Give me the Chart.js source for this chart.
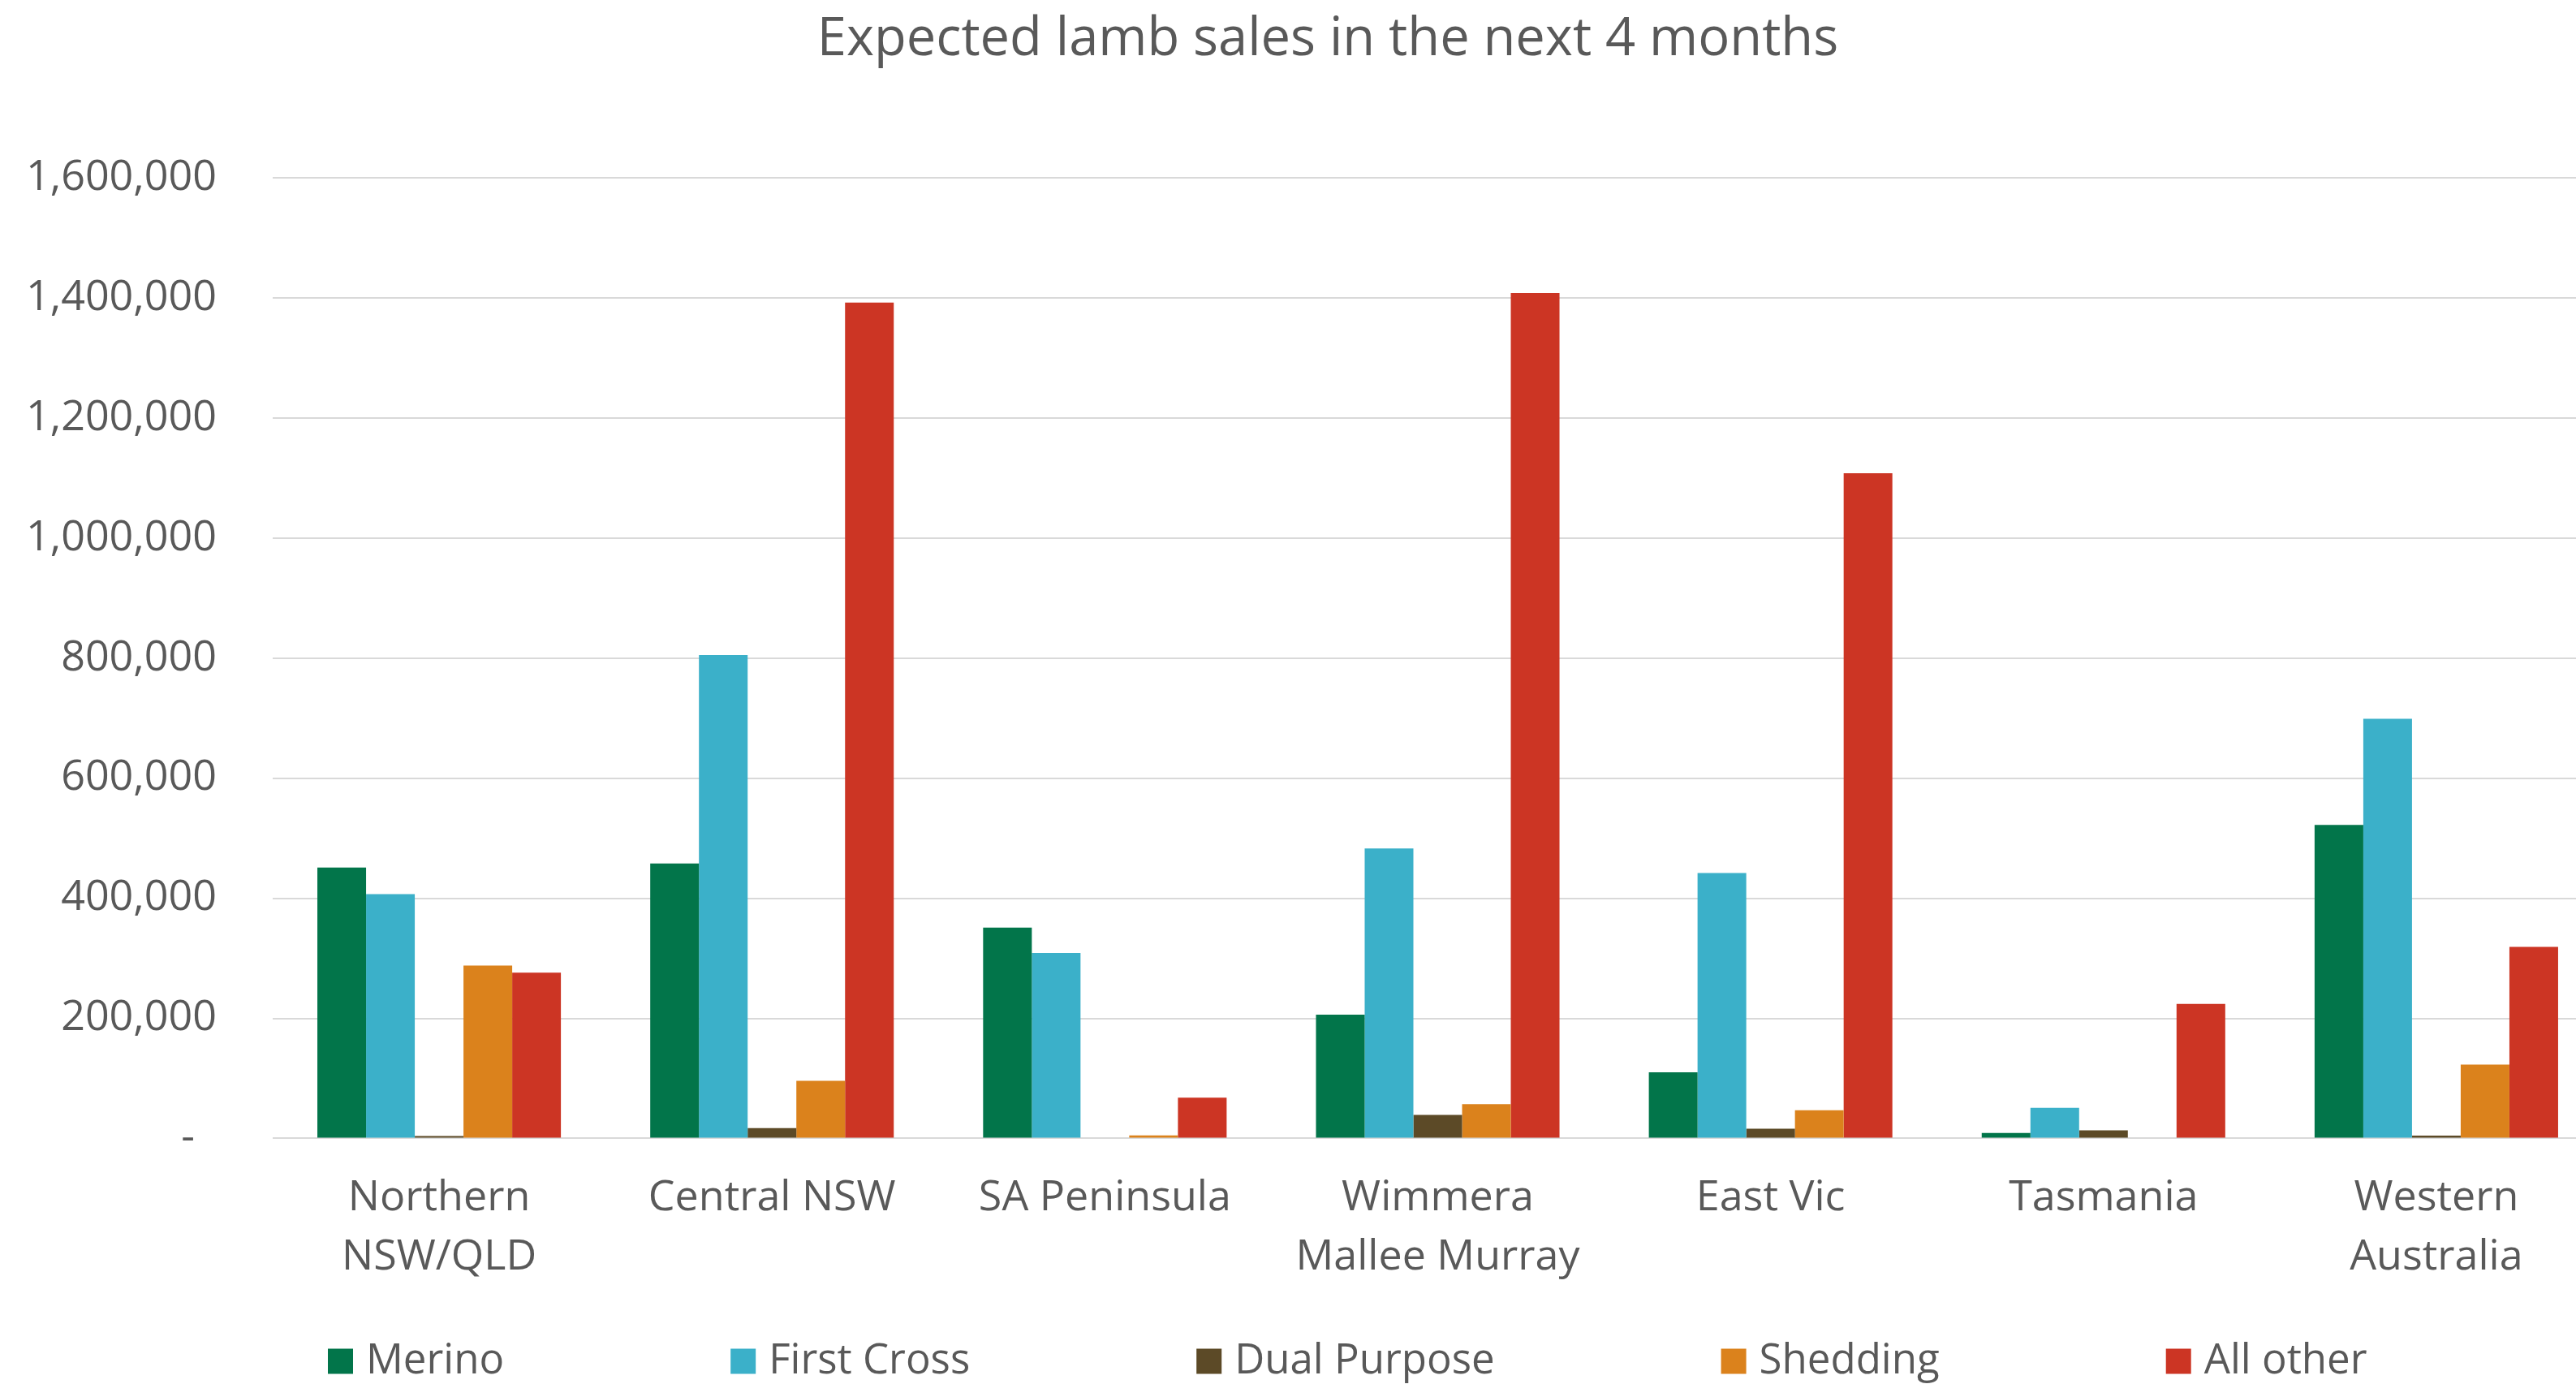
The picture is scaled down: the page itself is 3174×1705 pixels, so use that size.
<!DOCTYPE html>
<html>
<head>
<meta charset="utf-8">
<title>Expected lamb sales in the next 4 months</title>
<script src="https://cdn.jsdelivr.net/npm/chart.js@4.4.1/dist/chart.umd.min.js"></script>
<style>
  html, body { margin: 0; padding: 0; background: #fff; overflow: hidden; }
  #wrap { width: 3272px; height: 1705px; }
</style>
</head>
<body>
<div id="wrap"><canvas id="chart" width="3272" height="1705"></canvas></div>
<script>
// regions (two-line labels are arrays)
const regions = [
    ['Northern', 'NSW/QLD'],
    'Central NSW',
    'SA Peninsula',
    ['Wimmera', 'Mallee Murray'],
    'East Vic',
    'Tasmania',
    ['Western', 'Australia'],
];

// lambs expected to be sold, per breed type
const merino      = [451000, 458000, 351000, 206000, 110000,   9000, 522000];
const firstCross  = [407000, 805000, 309000, 483000, 442000,  51000, 699000];
const dualPurpose = [  4000,  17000,      0,  39000,  16000,  13500,   4500];
const shedding    = [288000,  96000,   5000,  57000,  47000,      0, 123000];
const allOther    = [276000, 1392000, 68000, 1408000, 1108000, 224000, 319000];

const yTicks = [0, 200000, 400000, 600000, 800000, 1000000, 1200000, 1400000, 1600000];

const textColor = '#595959';
const fontFamily = '"Open Sans", "Noto Sans", sans-serif';

// Excel centres the title a bit right of the canvas middle
const titleShift = {
    id: 'titleShift',
    afterLayout(chart, args, opts) {
        const t = chart.titleBlock;
        if (!t) return;
        const dx = opts.centerX - (t.left + t.right) / 2;
        t.left += dx;
        t.right += dx;
    },
};

// legend drawn by hand: Excel spreads the items out much wider than chart.js would
const bottomLegend = {
    id: 'bottomLegend',
    afterDraw(chart, args, opts) {
        const ctx = chart.ctx;
        ctx.save();
        ctx.font = opts.fontSize + 'px ' + fontFamily;
        ctx.textBaseline = 'middle';
        ctx.textAlign = 'left';
        let x = opts.startX;
        chart.data.datasets.forEach((ds) => {
            ctx.fillStyle = ds.backgroundColor;
            ctx.fillRect(x, opts.y - opts.box / 2, opts.box, opts.box);
            x += opts.box + opts.textGap;
            ctx.fillStyle = textColor;
            ctx.fillText(ds.label, x, opts.y);
            x += ctx.measureText(ds.label).width + opts.itemGap;
        });
        ctx.restore();
    },
};

const ctx = document.getElementById('chart').getContext('2d');

new Chart(ctx, {
    type: 'bar',
    data: {
        labels: regions,
        datasets: [
            { label: 'Merino', data: merino, backgroundColor: '#02754a' },
            { label: 'First Cross', data: firstCross, backgroundColor: '#3bb0c9' },
            { label: 'Dual Purpose', data: dualPurpose, backgroundColor: '#5c4a27' },
            { label: 'Shedding', data: shedding, backgroundColor: '#db821c' },
            { label: 'All other', data: allOther, backgroundColor: '#cc3524' },
        ],
    },
    options: {
        responsive: false,
        animation: false,
        layout: {
            padding: { top: 0, left: 10, right: 65, bottom: 90 },
        },
        datasets: {
            bar: {
                categoryPercentage: 0.7316,
                barPercentage: 1,
            },
        },
        plugins: {
            legend: { display: false },
            tooltip: { enabled: false },
            title: {
                display: true,
                text: 'Expected lamb sales in the next 4 months',
                color: textColor,
                font: { family: fontFamily, size: 65, weight: 'normal', lineHeight: 1.2 },
                padding: { top: 10, bottom: 131 },
            },
            titleShift: { centerX: 1636 },
            bottomLegend: {
                startX: 404,
                y: 1677,
                box: 31,
                textGap: 16,
                itemGap: 279,
                fontSize: 51,
            },
        },
        scales: {
            x: {
                grid: { display: false },
                border: { display: false },
                ticks: {
                    color: textColor,
                    padding: 30,
                    maxRotation: 0,
                    autoSkip: false,
                    font: { family: fontFamily, size: 52, lineHeight: 1.39 },
                },
            },
            y: {
                min: 0,
                max: 1600000,
                afterFit: (scale) => { scale.width = 326; },
                afterBuildTicks: (scale) => {
                    scale.ticks = yTicks.map((v) => ({ value: v }));
                },
                grid: {
                    color: '#d9d9d9',
                    lineWidth: 2,
                    drawTicks: false,
                },
                border: { display: false },
                ticks: {
                    color: textColor,
                    padding: 69,
                    font: { family: fontFamily, size: 52 },
                    callback: (value) => (value === 0 ? '-  ' : value.toLocaleString('en-US')),
                },
            },
        },
    },
    plugins: [titleShift, bottomLegend],
});
</script>
</body>
</html>
